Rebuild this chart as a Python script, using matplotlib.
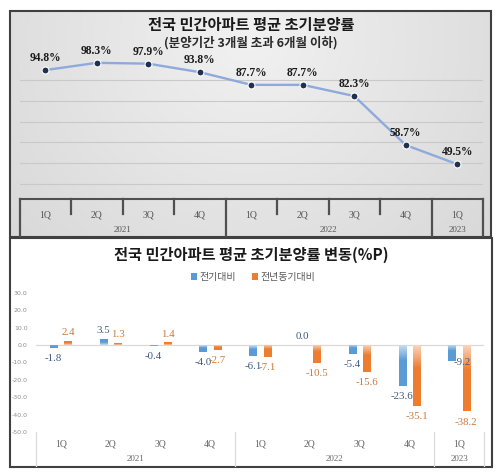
import numpy as np
import matplotlib
matplotlib.use('Agg')
import matplotlib.pyplot as plt
from matplotlib.patches import Rectangle
from matplotlib.transforms import blended_transform_factory

# ---------------- data ----------------
quarters = ['1Q', '2Q', '3Q', '4Q', '1Q', '2Q', '3Q', '4Q', '1Q']
years = ['2021', '2022', '2023']
year_spans = [(0, 3), (4, 7), (8, 8)]
rate = [94.8, 98.3, 97.9, 93.8, 87.7, 87.7, 82.3, 58.7, 49.5]
qoq = [-1.8, 3.5, -0.4, -4.0, -6.1, 0.0, -5.4, -23.6, -9.2]
yoy = [2.4, 1.3, 1.4, -2.7, -7.1, -10.5, -15.6, -35.1, -38.2]
series_names = ['전기대비', '전년동기대비']
title1 = '전국 민간아파트 평균 초기분양률'
subtitle1 = '(분양기간 3개월 초과 6개월 이하)'
title2 = '전국 민간아파트 평균 초기분양률 변동(%P)'

# label nudges (points) for manually moved labels
label_nudge = {(0, 8): (7.5, 6.8)}

KR = ['Noto Sans CJK KR', 'DejaVu Sans']
SERIF = 'Liberation Serif'
BLUE = '#5b9bd5'
ORANGE = '#ed7d31'

W, H = 500, 476
fig = plt.figure(figsize=(W / 100, H / 100), dpi=100)


def px_axes(x0, y0, x1, y1):
    return fig.add_axes([x0 / W, 1 - y1 / H, (x1 - x0) / W, (y1 - y0) / H])


bg = px_axes(0, 0, W, H)
bg.set_xlim(0, W)
bg.set_ylim(H, 0)
bg.axis('off')

# ---------- top panel background (gradient) ----------
tx0, tx1, ty0, ty1 = 10, 491, 11, 237
gx = np.linspace(tx0, tx1, 300)
gy = np.linspace(ty0, ty1, 150)
GX, GY = np.meshgrid(gx, gy)
r = np.sqrt(((GX - 250) / 300) ** 2 + ((GY - 40) / 280) ** 2)
gray = np.clip(0.945 - 0.09 * r, 0.82, 0.945)
img = np.dstack([gray, gray, gray])
bg.imshow(img, extent=(tx0, tx1, ty1, ty0), aspect='auto', zorder=0,
          interpolation='bilinear')
bg.add_patch(Rectangle((tx0, ty0), tx1 - tx0, ty1 - ty0, fill=False,
                       ec='#404040', lw=1.5, zorder=5))
bg.set_xlim(0, W)
bg.set_ylim(H, 0)

bg.text(251, 25, title1, ha='center', va='center', fontsize=11,
        fontweight='heavy', family=KR, color='#1a1a1a')
bg.text(251, 43, subtitle1, ha='center', va='center', fontsize=9,
        fontweight='heavy', family=KR, color='#2a2a2a')

# ---------- top line chart ----------
ax1 = px_axes(19.5, 59.3, 483, 199)
ax1.set_facecolor('none')
x = np.arange(len(quarters))
ax1.set_xlim(-0.5, len(quarters) - 0.5)
ax1.set_ylim(32.75, 100)
ax1.set_yticks(np.arange(40, 100, 10))
ax1.set_xticks([])
ax1.tick_params(axis='y', length=0, labelleft=False)
ax1.grid(axis='y', color='#c9c9c9', lw=0.8)
for s in ax1.spines.values():
    s.set_visible(False)
ax1.plot(x, rate, color='#8eaadb', lw=1.7, marker='o', ms=5, mfc='#1f3050',
         mec='white', mew=0.8, clip_on=False, zorder=3)
for i, v in enumerate(rate):
    ax1.annotate(f'{v}%', (i, v), xytext=(0, 8.6), textcoords='offset points',
                 ha='center', va='center', fontfamily=SERIF, fontweight='bold',
                 fontsize=8.3, color='#1a1a1a', annotation_clip=False, zorder=4)

trans1 = blended_transform_factory(ax1.transData, bg.transData)
n = len(quarters)
ax1.plot([-0.5, n - 0.5], [199, 199], transform=trans1, color='#505050',
         lw=1.5, clip_on=False)
year_bounds = [s - 0.5 for s, e in year_spans] + [n - 0.5]
for b in np.arange(-0.5, n, 1.0):
    full = any(abs(b - yb) < 1e-6 for yb in year_bounds)
    ax1.plot([b, b], [199, 236 if full else 214], transform=trans1,
             color='#505050', lw=1.6, clip_on=False)
for i, q in enumerate(quarters):
    ax1.text(i, 215, q, transform=trans1, ha='center', va='center',
             fontfamily=SERIF, fontsize=7, color='#555555')
for yname, (s, e) in zip(years, year_spans):
    ax1.text((s + e) / 2, 230, yname, transform=trans1, ha='center',
             va='center', fontfamily=SERIF, fontsize=6.5, color='#555555')

# ---------- bottom panel ----------
bx0, bx1, by0, by1 = 10, 492, 238, 467
bg.add_patch(Rectangle((bx0, by0), bx1 - bx0, by1 - by0, fc='white',
                       ec='#404040', lw=1.5, zorder=1))
bg.text(251, 255, title2, ha='center', va='center', fontsize=11,
        fontweight='heavy', family=KR, color='#1a1a1a', zorder=6)

ax2 = px_axes(36, 292.7, 484, 432)
ax2.set_facecolor('none')
ax2.set_xlim(-0.5, n - 0.5)
ax2.set_ylim(-50, 30)
ax2.set_yticks(np.arange(-50, 31, 10))
ax2.set_yticklabels([f'{v:.1f}' for v in np.arange(-50, 31, 10)])
ax2.tick_params(axis='y', length=0, labelsize=4.5, labelcolor='#8c8c8c', pad=6)
ax2.set_xticks([])
for s in ax2.spines.values():
    s.set_visible(False)
ax2.axhline(0, color='#d9d9d9', lw=0.9, zorder=1)

bw = 0.145
off = 0.145
label_colors = ['#3d5a80', '#c9793a']
for si, (vals, col, dx) in enumerate([(qoq, BLUE, -off), (yoy, ORANGE, off)]):
    bars = ax2.bar(x + dx, vals, width=bw, color='none', edgecolor='none',
                   zorder=2)
    rgb = np.array(matplotlib.colors.to_rgb(col))
    for i, (p, v) in enumerate(zip(bars.patches, vals)):
        if v != 0:
            t = np.linspace(0, 1, 64)
            f = np.clip(0.3 + 1.8 * t, 0, 1)
            cols = (1 - f)[:, None] * np.ones(3) + f[:, None] * rgb
            if v < 0:
                cols = cols[::-1]
            grad = cols[:, None, :].repeat(2, axis=1)
            y0, y1 = min(0, v), max(0, v)
            im = ax2.imshow(grad, extent=(p.get_x(), p.get_x() + bw, y0, y1),
                            origin='lower', aspect='auto', zorder=2,
                            interpolation='bilinear')
            im.set_clip_path(p)
        dxp, dyp = label_nudge.get((si, i), (0, 0))
        base = 6.0 if v >= 0 else -7.6
        ax2.annotate(f'{v:.1f}', (i + dx, v), xytext=(dxp, base + dyp),
                     textcoords='offset points', ha='center', va='center',
                     fontfamily=SERIF, fontsize=7.8, color=label_colors[si],
                     annotation_clip=False, zorder=4 + si)
ax2.set_xlim(-0.5, n - 0.5)
ax2.set_ylim(-50, 30)

trans2 = blended_transform_factory(ax2.transData, bg.transData)
for b in year_bounds:
    ax2.plot([b, b], [432, 466], transform=trans2, color='#d9d9d9', lw=0.9,
             clip_on=False)
for i, q in enumerate(quarters):
    ax2.text(i, 444, q, transform=trans2, ha='center', va='center',
             fontfamily=SERIF, fontsize=7, color='#666666')
for yname, (s, e) in zip(years, year_spans):
    ax2.text((s + e) / 2, 459, yname, transform=trans2, ha='center',
             va='center', fontfamily=SERIF, fontsize=6.5, color='#666666')

handles = [Rectangle((0, 0), 1, 1, fc=BLUE), Rectangle((0, 0), 1, 1, fc=ORANGE)]
fig.legend(handles, series_names, loc='center',
           bbox_to_anchor=(253 / W, 1 - 277 / H), ncol=2, frameon=False,
           prop={'family': KR, 'size': 7.2}, labelcolor='#595959',
           handlelength=0.6, handleheight=0.6, handletextpad=0.25,
           columnspacing=1.6)

fig.savefig('out.png', dpi=100)
